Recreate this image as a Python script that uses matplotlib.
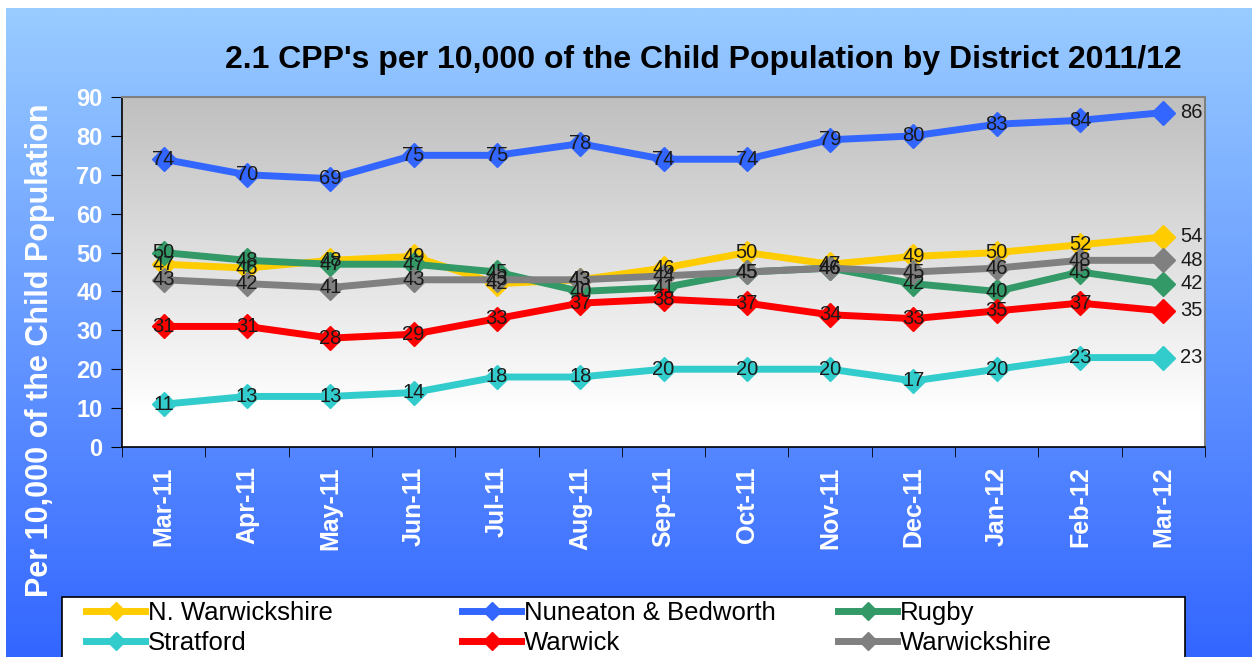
import numpy as np
import matplotlib
matplotlib.use("Agg")
import matplotlib.pyplot as plt
from matplotlib.patches import Rectangle

months = ["Mar-11", "Apr-11", "May-11", "Jun-11", "Jul-11", "Aug-11", "Sep-11",
          "Oct-11", "Nov-11", "Dec-11", "Jan-12", "Feb-12", "Mar-12"]
n_warwickshire = [47, 46, 48, 49, 42, 43, 46, 50, 47, 49, 50, 52, 54]
nuneaton_bedworth = [74, 70, 69, 75, 75, 78, 74, 74, 79, 80, 83, 84, 86]
rugby = [50, 48, 47, 47, 45, 40, 41, 45, 46, 42, 40, 45, 42]
stratford = [11, 13, 13, 14, 18, 18, 20, 20, 20, 17, 20, 23, 23]
warwick = [31, 31, 28, 29, 33, 37, 38, 37, 34, 33, 35, 37, 35]
warwickshire = [43, 42, 41, 43, 43, 43, 44, 45, 46, 45, 46, 48, 48]

series_names = ["N. Warwickshire", "Nuneaton & Bedworth", "Rugby",
                "Stratford", "Warwick", "Warwickshire"]
series_values = [n_warwickshire, nuneaton_bedworth, rugby,
                 stratford, warwick, warwickshire]
series_colors = ["#FFCC00", "#3366FF", "#339966", "#33CCCC", "#FF0000", "#808080"]

plt.rcParams['font.family'] = ['Liberation Sans', 'DejaVu Sans']

W, H = 1252, 657
fig = plt.figure(figsize=(W / 100, H / 100), dpi=100, facecolor="white")

# figure background gradient
bg = fig.add_axes([6 / W, 0, 1 - 6 / W, 1 - 8 / H], zorder=-10)
top = np.array([0x99, 0xCC, 0xFF]) / 255
bot = np.array([0x33, 0x66, 0xFF]) / 255
t = np.linspace(0, 1, 256)[:, None]
grad = top[None, :] * (1 - t) + bot[None, :] * t
bg.imshow(grad[:, None, :], aspect="auto", extent=[0, 1, 0, 1])
bg.set_axis_off()

# plot area
L, R, T, B = 122, 1205, 97, 447
ax = fig.add_axes([L / W, 1 - B / H, (R - L) / W, (B - T) / H])
ax.set_facecolor("white")
t2 = np.clip(np.linspace(0, 1, 256)[:, None] / 0.9, 0, 1)
ctop = np.array([0xBF, 0xBF, 0xBF]) / 255
cbot = np.array([0xFF, 0xFF, 0xFF]) / 255
g2 = ctop[None, :] * (1 - t2) + cbot[None, :] * t2
ax.imshow(g2[:, None, :], aspect="auto", extent=[-0.5, 12.5, 0, 90], zorder=0)

x = np.arange(len(months))
handles = []
for name, vals, col in zip(series_names, series_values, series_colors):
    h, = ax.plot(x, vals, color=col, lw=5, marker="D", ms=12, mec=col, mfc=col,
                 zorder=3, label=name)
    handles.append(h)
    for i, v in enumerate(vals):
        if i == len(vals) - 1:
            ax.annotate(str(v), (x[i], v), xytext=(12, 0), textcoords="offset points",
                        ha="left", va="center", fontsize=14.5, color="#1a1a1a", zorder=5)
        else:
            ax.text(x[i], v, str(v), ha="center", va="center", fontsize=14.5,
                    color="#1a1a1a", zorder=5)

ax.set_xlim(-0.5, 12.5)
ax.set_ylim(0, 90)
ax.set_yticks(np.arange(0, 91, 10))
ax.set_yticklabels([str(v) for v in range(0, 91, 10)], color="white",
                   fontsize=17, fontweight="bold")
ax.set_xticks(x)
ax.set_xticklabels(months, rotation=90, color="white", fontsize=18, fontweight="bold")
ax.tick_params(axis="x", which="major", length=0, pad=14)
ax.set_xticks(np.arange(-0.5, 13, 1), minor=True)
ax.tick_params(axis="x", which="minor", length=7, direction="out", color="black")
ax.tick_params(axis="y", length=8, direction="out", color="black", pad=6)
for s in ["top", "right"]:
    ax.spines[s].set_color("#808080")
    ax.spines[s].set_linewidth(1.5)
for s in ["left", "bottom"]:
    ax.spines[s].set_color("black")
    ax.spines[s].set_linewidth(1.2)

fig.text(40 / W, 1 - 350 / H, "Per 10,000 of the Child Population", rotation=90,
         ha="center", va="center", color="white", fontsize=22, fontweight="bold")
fig.text(703 / W, 1 - 60 / H, "2.1 CPP's per 10,000 of the Child Population by District 2011/12",
         ha="center", va="center", color="black", fontsize=23, fontweight="bold")

# legend box
fig.add_artist(Rectangle((62 / W, -0.05), (1185 - 62) / W, 0.05 + (657 - 597) / H,
                         transform=fig.transFigure, facecolor="white",
                         edgecolor="black", lw=1.2, zorder=5))
col_x = [86, 462, 838]
for c in range(3):
    idx = [c, c + 3]
    leg = fig.legend([handles[i] for i in idx], [series_names[i] for i in idx],
                     loc="upper left", bbox_to_anchor=(col_x[c] / W, 1 - 601 / H),
                     fontsize=18.5, frameon=False, handlelength=2.3,
                     handletextpad=0.1, borderaxespad=0, borderpad=0.0,
                     labelspacing=0.22, markerscale=0.75)
    leg.set_zorder(6)

fig.savefig("out.png", dpi=100, facecolor=fig.get_facecolor())
